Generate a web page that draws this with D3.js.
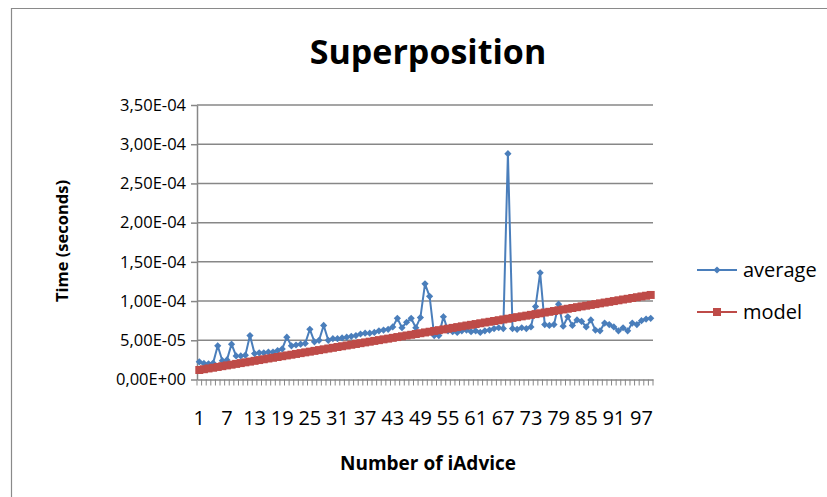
<!DOCTYPE html>
<html>
<head>
<meta charset="utf-8">
<script src="https://cdn.jsdelivr.net/npm/d3@7"></script>
<style>
  body { margin: 0; background: #fff; }
  svg { display: block; }
  text { font-family: "Open Sans", sans-serif; fill: #000; }
</style>
</head>
<body>
<svg id="chart" width="827" height="497"></svg>
<script>
// Number of iAdvice (category axis)
const categories = [
  1, 2, 3, 4, 5, 6, 7, 8, 9, 10, 11, 12, 13, 14, 15, 16, 17, 18, 19, 20,
  21, 22, 23, 24, 25, 26, 27, 28, 29, 30, 31, 32, 33, 34, 35, 36, 37, 38, 39, 40,
  41, 42, 43, 44, 45, 46, 47, 48, 49, 50, 51, 52, 53, 54, 55, 56, 57, 58, 59, 60,
  61, 62, 63, 64, 65, 66, 67, 68, 69, 70, 71, 72, 73, 74, 75, 76, 77, 78, 79, 80,
  81, 82, 83, 84, 85, 86, 87, 88, 89, 90, 91, 92, 93, 94, 95, 96, 97, 98, 99
];

// Measured average time (seconds)
const average = [
  2.25e-5, 2.05e-5, 2.0e-5, 2.1e-5, 4.3e-5, 2.4e-5, 2.5e-5, 4.5e-5, 3.0e-5, 3.0e-5,
  3.1e-5, 5.6e-5, 3.3e-5, 3.4e-5, 3.4e-5, 3.5e-5, 3.5e-5, 3.7e-5, 3.9e-5, 5.4e-5,
  4.3e-5, 4.4e-5, 4.5e-5, 4.6e-5, 6.4e-5, 4.8e-5, 5.0e-5, 6.9e-5, 5.0e-5, 5.2e-5,
  5.2e-5, 5.3e-5, 5.4e-5, 5.5e-5, 5.6e-5, 5.8e-5, 5.9e-5, 5.9e-5, 6.0e-5, 6.2e-5,
  6.3e-5, 6.4e-5, 6.7e-5, 7.8e-5, 6.6e-5, 7.3e-5, 7.8e-5, 6.6e-5, 7.9e-5, 12.2e-5,
  10.6e-5, 5.6e-5, 5.6e-5, 8.0e-5, 6.2e-5, 6.1e-5, 6.0e-5, 6.2e-5, 6.3e-5, 6.1e-5,
  6.2e-5, 6.0e-5, 6.2e-5, 6.3e-5, 6.5e-5, 6.6e-5, 6.5e-5, 28.8e-5, 6.5e-5, 6.4e-5,
  6.6e-5, 6.5e-5, 6.7e-5, 9.3e-5, 13.6e-5, 7.0e-5, 6.9e-5, 7.0e-5, 9.6e-5, 6.8e-5,
  8.0e-5, 6.9e-5, 7.6e-5, 7.4e-5, 6.7e-5, 7.6e-5, 6.3e-5, 6.2e-5, 7.2e-5, 7.0e-5,
  6.7e-5, 6.2e-5, 6.6e-5, 6.2e-5, 7.2e-5, 7.0e-5, 7.5e-5, 7.7e-5, 7.8e-5
];

// Predicted time from the model (seconds)
const model = [
  12.1e-6, 13.1e-6, 14.1e-6, 15.0e-6, 16.0e-6, 17.0e-6, 18.0e-6, 18.9e-6, 19.9e-6, 20.9e-6,
  21.9e-6, 22.8e-6, 23.8e-6, 24.8e-6, 25.8e-6, 26.8e-6, 27.7e-6, 28.7e-6, 29.7e-6, 30.7e-6,
  31.6e-6, 32.6e-6, 33.6e-6, 34.6e-6, 35.5e-6, 36.5e-6, 37.5e-6, 38.5e-6, 39.5e-6, 40.4e-6,
  41.4e-6, 42.4e-6, 43.4e-6, 44.3e-6, 45.3e-6, 46.3e-6, 47.3e-6, 48.2e-6, 49.2e-6, 50.2e-6,
  51.2e-6, 52.1e-6, 53.1e-6, 54.1e-6, 55.1e-6, 56.1e-6, 57.0e-6, 58.0e-6, 59.0e-6, 60.0e-6,
  60.9e-6, 61.9e-6, 62.9e-6, 63.9e-6, 64.8e-6, 65.8e-6, 66.8e-6, 67.8e-6, 68.8e-6, 69.7e-6,
  70.7e-6, 71.7e-6, 72.7e-6, 73.6e-6, 74.6e-6, 75.6e-6, 76.6e-6, 77.5e-6, 78.5e-6, 79.5e-6,
  80.5e-6, 81.4e-6, 82.4e-6, 83.4e-6, 84.4e-6, 85.4e-6, 86.3e-6, 87.3e-6, 88.3e-6, 89.3e-6,
  90.2e-6, 91.2e-6, 92.2e-6, 93.2e-6, 94.1e-6, 95.1e-6, 96.1e-6, 97.1e-6, 98.1e-6, 99.0e-6,
  100.0e-6, 101.0e-6, 102.0e-6, 102.9e-6, 103.9e-6, 104.9e-6, 105.9e-6, 106.8e-6, 107.8e-6
];

const yTickValues = [0, 0.5e-4, 1.0e-4, 1.5e-4, 2.0e-4, 2.5e-4, 3.0e-4, 3.5e-4];
const yTickLabels = ["0,00E+00", "5,00E-05", "1,00E-04", "1,50E-04", "2,00E-04", "2,50E-04", "3,00E-04", "3,50E-04"];
const xTickValues = [1, 7, 13, 19, 25, 31, 37, 43, 49, 55, 61, 67, 73, 79, 85, 91, 97];
const xTickLabels = ["1", "7", "13", "19", "25", "31", "37", "43", "49", "55", "61", "67", "73", "79", "85", "91", "97"];

const seriesNames = ["average", "model"];
const seriesColors = ["#4A7EBB", "#BE4B48"];

const svg = d3.select("#chart");
const gridColor = "#878787";

// Chart area frame
svg.append("path")
  .attr("d", "M11.5,497 V8.5 H827")
  .attr("fill", "none")
  .attr("stroke", "#8a8a8a")
  .attr("stroke-width", 1.2);

const x = d3.scaleBand().domain(categories).range([197, 653]).paddingInner(0).paddingOuter(0);
const y = d3.scaleLinear().domain([0, 3.5e-4]).range([379.5, 105]);
const cx = c => x(c) + x.bandwidth() / 2;

// Horizontal gridlines
svg.append("g")
  .selectAll("line")
  .data(yTickValues.slice(1))
  .join("line")
  .attr("x1", 197).attr("x2", 653)
  .attr("y1", d => y(d)).attr("y2", d => y(d))
  .attr("stroke", gridColor)
  .attr("stroke-width", 1.5);

// Y axis
const yAxis = svg.append("g")
  .attr("transform", "translate(197,0)")
  .call(d3.axisLeft(y).tickValues(yTickValues).tickFormat((d, i) => yTickLabels[i]).tickSize(6).tickPadding(5).tickSizeOuter(0));
yAxis.select(".domain").attr("stroke", gridColor).attr("stroke-width", 1.5);
yAxis.selectAll(".tick line").attr("stroke", gridColor).attr("stroke-width", 1.5);
yAxis.selectAll(".tick text").attr("font-size", 16.5).attr("font-family", "Open Sans").attr("fill", "#000");

// X axis with a tick between every category
const xAxis = svg.append("g")
  .attr("transform", "translate(0,379.5)")
  .call(d3.axisBottom(x).tickValues(xTickValues).tickFormat((d, i) => xTickLabels[i]).tickSize(0).tickPadding(31));
xAxis.select(".domain").attr("stroke", gridColor).attr("stroke-width", 1.5);
xAxis.selectAll(".tick text").attr("font-size", 20).attr("font-family", "Open Sans").attr("fill", "#000");

const boundaries = categories.map(c => x(c)).concat([x.range()[1]]);
svg.append("g")
  .selectAll("line")
  .data(boundaries)
  .join("line")
  .attr("x1", d => d).attr("x2", d => d)
  .attr("y1", 379.5).attr("y2", 385.5)
  .attr("stroke", gridColor)
  .attr("stroke-width", 1);

// Series
const avgData = categories.map((c, i) => ({ c, v: average[i] }));
const modelData = categories.map((c, i) => ({ c, v: model[i] }));
const line = d3.line().x(d => cx(d.c)).y(d => y(d.v));

const diamond = d3.symbol(d3.symbolSquare, 26)();
const square = d3.symbol(d3.symbolSquare, 64)();

svg.append("path")
  .datum(avgData)
  .attr("d", line)
  .attr("fill", "none")
  .attr("stroke", seriesColors[0])
  .attr("stroke-width", 2);
svg.append("g")
  .selectAll("path")
  .data(avgData)
  .join("path")
  .attr("d", diamond)
  .attr("transform", d => `translate(${cx(d.c)},${y(d.v)}) rotate(45)`)
  .attr("fill", seriesColors[0]);

svg.append("path")
  .datum(modelData)
  .attr("d", line)
  .attr("fill", "none")
  .attr("stroke", seriesColors[1])
  .attr("stroke-width", 2);
svg.append("g")
  .selectAll("path")
  .data(modelData)
  .join("path")
  .attr("d", square)
  .attr("transform", d => `translate(${cx(d.c)},${y(d.v)})`)
  .attr("fill", seriesColors[1]);

// Title
svg.append("text")
  .attr("x", 428).attr("y", 64)
  .attr("text-anchor", "middle")
  .attr("font-size", 34)
  .attr("font-weight", "bold")
  .text("Superposition");

// Axis titles
svg.append("text")
  .attr("x", 428).attr("y", 470)
  .attr("text-anchor", "middle")
  .attr("font-size", 19)
  .attr("font-weight", "bold")
  .text("Number of iAdvice");

svg.append("text")
  .attr("transform", "translate(68,241) rotate(-90)")
  .attr("text-anchor", "middle")
  .attr("font-size", 16.5)
  .attr("font-weight", "bold")
  .text("Time (seconds)");

// Legend
const legend = svg.append("g");
const legendY = [270, 312];
const markers = [diamond, square];
seriesNames.forEach((name, i) => {
  const g = legend.append("g").attr("transform", `translate(0,${legendY[i]})`);
  g.append("line").attr("x1", 697).attr("x2", 737).attr("y1", 0).attr("y2", 0)
    .attr("stroke", seriesColors[i]).attr("stroke-width", 2);
  g.append("path").attr("d", markers[i])
    .attr("transform", i === 0 ? "translate(717,0) rotate(45)" : "translate(717,0)")
    .attr("fill", seriesColors[i]);
  g.append("text").attr("x", 743).attr("y", 0).attr("dy", "0.35em")
    .attr("font-size", 20).text(name);
});
</script>
</body>
</html>
